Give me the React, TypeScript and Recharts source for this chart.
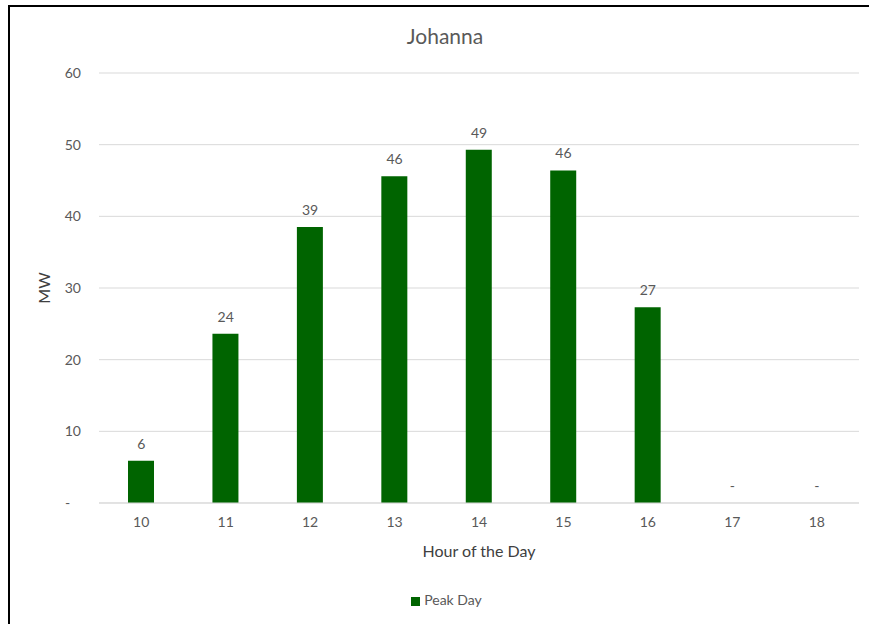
import { Bar, CartesianGrid, ComposedChart, LabelList, Legend, Line, XAxis, YAxis } from 'recharts'

const hours = ['10', '11', '12', '13', '14', '15', '16', '17', '18']
const peakDay = [5.9, 23.6, 38.5, 45.6, 49.3, 46.4, 27.3, 0, 0]
const yTicks = [0, 10, 20, 30, 40, 50, 60]

const data = hours.map((hour, i) => ({ hour, peak: peakDay[i] }))

const FONT = 'Lato, "Open Sans", sans-serif'
const GREY = '#595959'

const dash = (v: number) => (Math.round(v) === 0 ? '-' : String(Math.round(v)))

// value above each bar, a dash when it's zero (like Excel's accounting format)
const BarValue = (props: any) => {
    const { x, y, value } = props
    return (
        <text x={Number(x)} y={Number(y) - 12} textAnchor="middle" fill={GREY} fontSize={14} fontFamily={FONT}>
            {dash(Number(value))}
        </text>
    )
}

export default function App() {
    return (
        <div style={{ position: 'fixed', left: 0, top: 0, width: 869, height: 624, overflow: 'hidden', background: '#fff' }}>
            <div
                style={{
                    position: 'absolute',
                    left: 8,
                    top: 5,
                    width: 870,
                    height: 640,
                    border: '2px solid #000',
                    fontFamily: FONT,
                }}
            >
                <div
                    style={{
                        position: 'absolute',
                        top: 16,
                        left: 0,
                        width: 870,
                        textAlign: 'center',
                        fontSize: 21,
                        color: GREY,
                    }}
                >
                    Johanna
                </div>
                <ComposedChart
                    width={860}
                    height={617}
                    data={data}
                    margin={{ top: 66, right: 11, left: 20, bottom: 44 }}
                    barSize={26}
                >
                    <CartesianGrid vertical={false} stroke="#d9d9d9" />
                    <XAxis
                        dataKey="hour"
                        tickLine={false}
                        tickSize={0}
                        tickMargin={14}
                        stroke="#d9d9d9"
                        height={60}
                        tick={{ fill: GREY, fontSize: 14, fontFamily: FONT }}
                        label={{
                            value: 'Hour of the Day',
                            position: 'insideBottom',
                            offset: 6,
                            fill: '#404040',
                            fontSize: 16,
                            fontFamily: FONT,
                        }}
                    />
                    <YAxis
                        width={69}
                        domain={[0, 60]}
                        ticks={yTicks}
                        axisLine={false}
                        tickLine={false}
                        tickSize={0}
                        tickMargin={18}
                        tickFormatter={(v: number) => (v === 0 ? '-\u00a0\u00a0\u00a0' : String(v))}
                        tick={{ fill: GREY, fontSize: 14, fontFamily: FONT }}
                        label={{
                            value: 'MW',
                            angle: -90,
                            position: 'insideLeft',
                            offset: 14,
                            fill: '#404040',
                            fontSize: 16,
                            fontFamily: FONT,
                            style: { textAnchor: 'middle' },
                        }}
                    />
                    <Legend
                        verticalAlign="bottom"
                        iconType="square"
                        iconSize={9}
                        wrapperStyle={{ fontSize: 14, fontFamily: FONT, color: GREY, bottom: 16, left: 27 }}
                        formatter={(value: string) => <span style={{ color: GREY }}>{value}</span>}
                    />
                    <Bar dataKey="peak" name="Peak Day" fill="#006400" isAnimationActive={false} />
                    {/* invisible line only used to carry the data labels (zero bars get no label otherwise) */}
                    <Line
                        dataKey="peak"
                        stroke="none"
                        dot={false}
                        activeDot={false}
                        legendType="none"
                        isAnimationActive={false}
                    >
                        <LabelList dataKey="peak" content={BarValue} />
                    </Line>
                </ComposedChart>
            </div>
        </div>
    )
}
